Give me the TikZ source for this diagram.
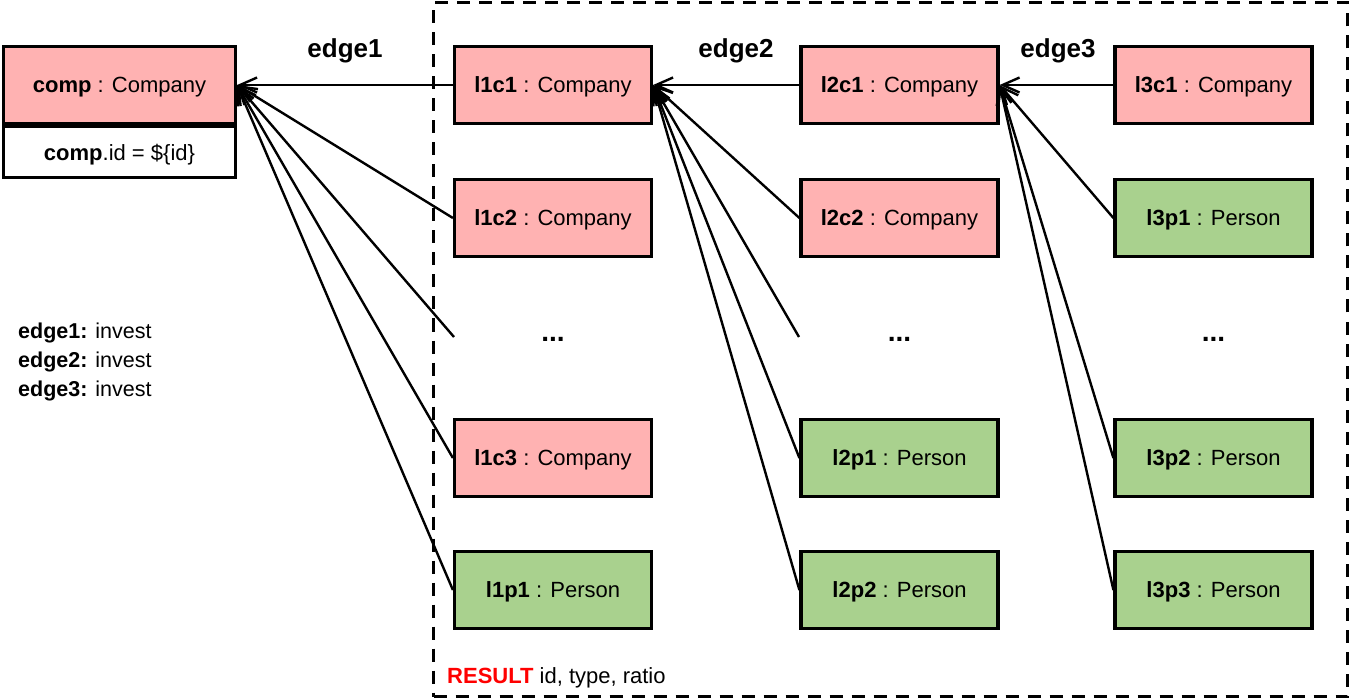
\documentclass[tikz,border=0pt]{standalone}
\usepackage{fontspec}
\setmainfont{Liberation Sans}
\usetikzlibrary{arrows.meta}
\definecolor{pinkfill}{RGB}{255,178,178}
\definecolor{greenfill}{RGB}{169,209,142}
\definecolor{resred}{RGB}{255,0,0}
\begin{document}
\begin{tikzpicture}[x=1pt,y=-1pt,
  box/.style={draw=black,line width=3.2pt,minimum width=197pt,minimum height=77pt,inner sep=0pt,text depth=0pt,font=\fontsize{22}{26}\selectfont},
  cbox/.style={box,fill=pinkfill},
  pbox/.style={box,fill=greenfill},
  edgelbl/.style={font=\fontsize{26}{30}\selectfont\bfseries},
  txt/.style={font=\fontsize{21.5}{25}\selectfont,inner sep=0pt},
  dots/.style={font=\fontsize{28}{30}\selectfont\bfseries,inner sep=0pt},
  arr/.style={line width=2.4pt,-{Straight Barb[length=17pt,width=15pt]}},
]
\useasboundingbox (0,0) rectangle (1356,700);
% result frame
\node[draw=black,line width=3pt,dash pattern=on 13pt off 9pt,minimum width=914pt,minimum height=694pt,inner sep=0pt] (frame) at (890.5,349.5) {};
% comp box
\node[cbox,minimum width=232pt] (comp) at (119.5,85) {\textbf{comp} : Company};
\node[box,minimum width=232pt,minimum height=51pt] (compid) at (119.5,152) {\textbf{comp}.id = \$\{id\}};
% column 1
\node[cbox] (l1c1) at (553,85) {\textbf{l1c1} : Company};
\node[cbox] (l1c2) at (553,218) {\textbf{l1c2} : Company};
\node[dots] (d1) at (553,339) {...};
\node[cbox] (l1c3) at (553,458) {\textbf{l1c3} : Company};
\node[pbox] (l1p1) at (553,590) {\textbf{l1p1} : Person};
% column 2
\node[cbox] (l2c1) at (899.5,85) {\textbf{l2c1} : Company};
\node[cbox] (l2c2) at (899.5,218) {\textbf{l2c2} : Company};
\node[dots] (d2) at (899.5,339) {...};
\node[pbox] (l2p1) at (899.5,458) {\textbf{l2p1} : Person};
\node[pbox] (l2p2) at (899.5,590) {\textbf{l2p2} : Person};
% column 3
\node[cbox] (l3c1) at (1213.5,85) {\textbf{l3c1} : Company};
\node[pbox] (l3p1) at (1213.5,218) {\textbf{l3p1} : Person};
\node[dots] (d3) at (1213.5,339) {...};
\node[pbox] (l3p2) at (1213.5,458) {\textbf{l3p2} : Person};
\node[pbox] (l3p3) at (1213.5,590) {\textbf{l3p3} : Person};
% free ends for the ellipsis rows
\coordinate (e1) at (454,337);
\coordinate (e2) at (799,337);
% edge labels
\node[edgelbl] (lab1) at (345,51) {edge1};
\node[edgelbl] (lab2) at (736,51) {edge2};
\node[edgelbl] (lab3) at (1058,51) {edge3};
% legend
\node[txt,anchor=west] (leg1) at (18,333) {\textbf{edge1:} invest};
\node[txt,anchor=west] (leg2) at (18,362) {\textbf{edge2:} invest};
\node[txt,anchor=west] (leg3) at (18,391) {\textbf{edge3:} invest};
% result text
\node[txt,anchor=west,font=\fontsize{22}{26}\selectfont] (res) at (447,678) {\textcolor{resred}{\textbf{RESULT}} id, type, ratio};
% connectors
\foreach \s in {l1c1,l1c2,l1c3,l1p1} \draw[arr] (\s.west) -- (comp.east);
\draw[arr] (e1) -- (comp.east);
\foreach \s in {l2c1,l2c2,l2p1,l2p2} \draw[arr] (\s.west) -- (l1c1.east);
\draw[arr] (e2) -- (l1c1.east);
\foreach \s in {l3c1,l3p1,l3p2,l3p3} \draw[arr] (\s.west) -- (l2c1.east);
\end{tikzpicture}
\end{document}
